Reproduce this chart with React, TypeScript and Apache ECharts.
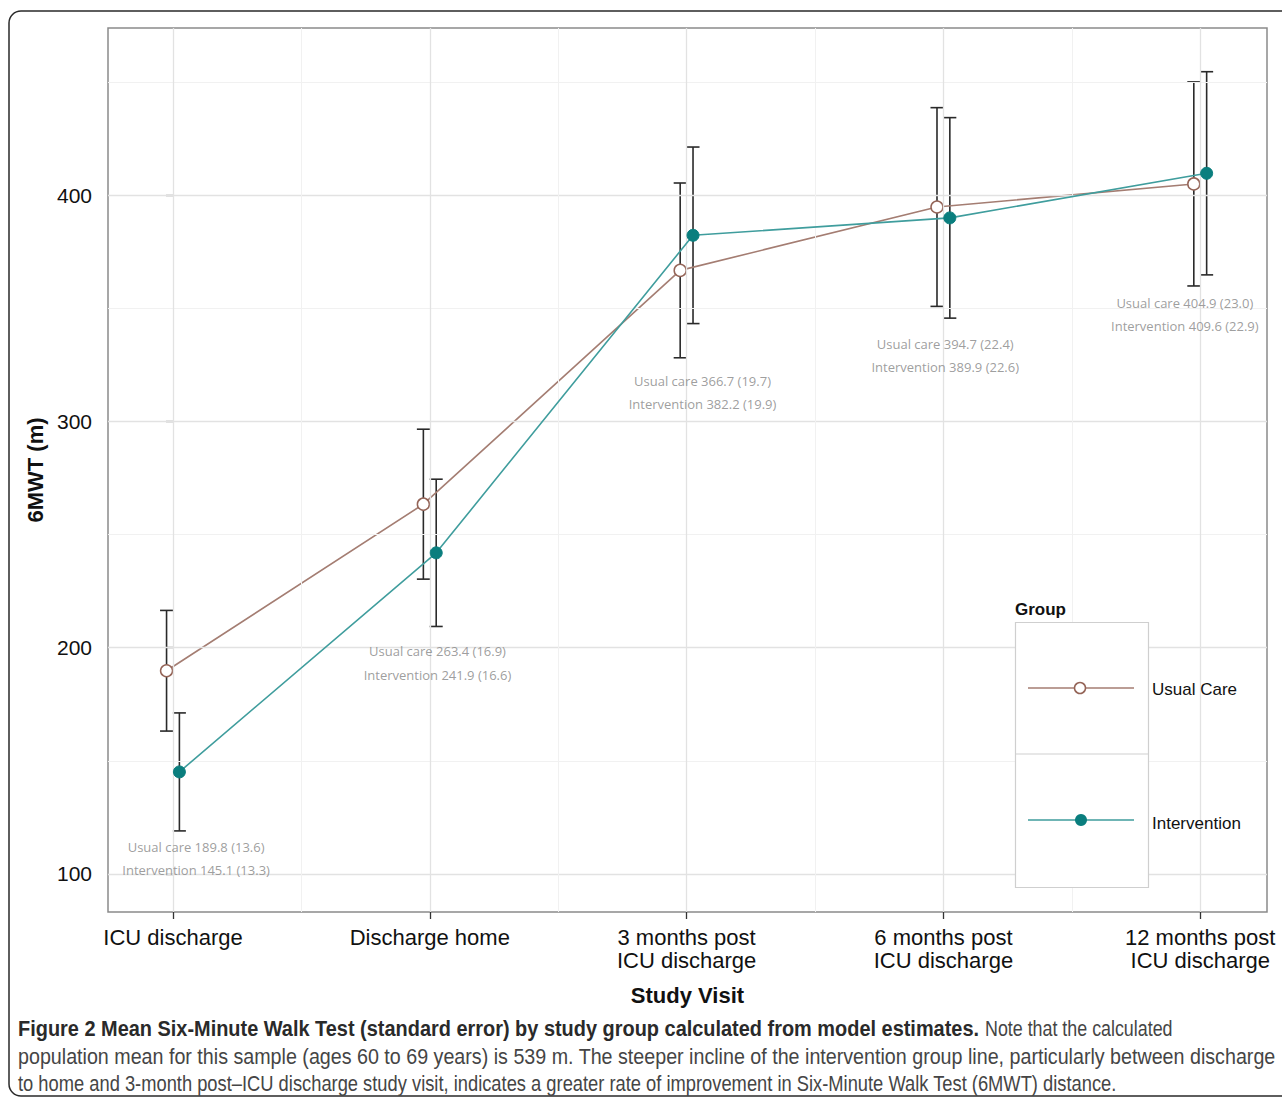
import React, { useEffect, useRef } from "react";
import * as echarts from "echarts";

const categories = [
  "ICU discharge",
  "Discharge home",
  "3 months post\nICU discharge",
  "6 months post\nICU discharge",
  "12 months post\nICU discharge",
];
const usualMean = [189.8, 263.4, 366.7, 394.7, 404.9];
const usualSE = [13.6, 16.9, 19.7, 22.4, 23.0];
const interventionMean = [145.1, 241.9, 382.2, 389.9, 409.6];
const interventionSE = [13.3, 16.6, 19.9, 22.6, 22.9];
const yTicks = [100, 200, 300, 400];
const yMinor = [150, 250, 350, 450];
const xMinor = [0.5, 1.5, 2.5, 3.5];
// annotation anchors (data coordinates)
const annoX = [0.09, 0.03, 0.062, 0.007, -0.06];
const annoYUsual = [112, 198.5, 318, 334.2, 352.3];
const annoYIntervention = [101.8, 188, 307.7, 324, 342.1];

const DODGE = 0.025;
const USUAL_LINE = "#a47d72";
const USUAL_EDGE = "#946457";
const INT_LINE = "#3f9d9d";
const INT_FILL = "#0a7e7e";
const FONT = "'Liberation Sans', Arial, sans-serif";
const CAP_FONT = "'Liberation Sans', Arial, sans-serif";

function errorSeries(name: string, means: number[], ses: number[], off: number) {
  return {
    type: "custom",
    name,
    z: 3,
    silent: true,
    data: means.map((m, i) => [i + off, m - 1.96 * ses[i], m + 1.96 * ses[i]]),
    encode: { x: 0, y: [1, 2] },
    renderItem: (_p: any, api: any) => {
      const x = api.value(0);
      const lo = api.coord([x, api.value(1)]);
      const hi = api.coord([x, api.value(2)]);
      const hw = 6.5;
      const style = { stroke: "#2a2a2a", lineWidth: 1.6 };
      return {
        type: "group",
        children: [
          { type: "line", shape: { x1: lo[0], y1: lo[1], x2: hi[0], y2: hi[1] }, style },
          { type: "line", shape: { x1: lo[0] - hw, y1: lo[1], x2: lo[0] + hw, y2: lo[1] }, style },
          { type: "line", shape: { x1: hi[0] - hw, y1: hi[1], x2: hi[0] + hw, y2: hi[1] }, style },
        ],
      };
    },
  };
}

export default function App() {
  const ref = useRef<HTMLDivElement>(null);
  useEffect(() => {
    const chart = echarts.init(ref.current!, null, { renderer: "svg" });
    const annoData: any[] = [];
    categories.forEach((_c, i) => {
      annoData.push({
        value: [i + annoX[i], annoYUsual[i]],
        name: `Usual care ${usualMean[i].toFixed(1)} (${usualSE[i].toFixed(1)})`,
      });
      annoData.push({
        value: [i + annoX[i], annoYIntervention[i]],
        name: `Intervention ${interventionMean[i].toFixed(1)} (${interventionSE[i].toFixed(1)})`,
      });
    });
    const gridLines: any[] = [
      ...yTicks.map((v) => ({ yAxis: v, lineStyle: { color: "#e2e2e2", width: 1.3, type: "solid" } })),
      ...yMinor.map((v) => ({ yAxis: v, lineStyle: { color: "#f1f1f1", width: 1, type: "solid" } })),
      ...categories.map((_c, i) => ({ xAxis: i, lineStyle: { color: "#e2e2e2", width: 1.3, type: "solid" } })),
      ...xMinor.map((v) => ({ xAxis: v, lineStyle: { color: "#f1f1f1", width: 1, type: "solid" } })),
    ];
    const capRegular = { fill: "#454545", textVerticalAlign: "middle" };
    const option: any = {
      animation: false,
      backgroundColor: "#ffffff",
      grid: {
        left: 108,
        top: 28,
        right: 15,
        bottom: 187,
        show: true,
        backgroundColor: "#ffffff",
        borderColor: "#8a8a8a",
        borderWidth: 1.5,
      },
      xAxis: {
        type: "value",
        min: -0.253,
        max: 4.26,
        name: "Study Visit",
        nameLocation: "middle",
        nameGap: 72,
        nameTextStyle: { fontFamily: FONT, fontWeight: "bold", fontSize: 22, color: "#111" },
        axisLine: { show: false },
        splitLine: { show: false },
        axisTick: {
          show: true,
          customValues: [0, 1, 2, 3, 4],
          length: 7,
          lineStyle: { color: "#333", width: 1.3 },
        },
        axisLabel: {
          customValues: [0, 1, 2, 3, 4],
          formatter: (v: number) => categories[Math.round(v)],
          fontFamily: FONT,
          fontSize: 22,
          color: "#111",
          lineHeight: 23,
          margin: 14,
        },
      },
      yAxis: {
        type: "value",
        min: 83.2,
        max: 473.8,
        name: "6MWT (m)",
        nameLocation: "middle",
        nameGap: 55,
        nameRotate: 90,
        nameTextStyle: { fontFamily: FONT, fontWeight: "bold", fontSize: 22, color: "#111" },
        axisLine: { show: false },
        splitLine: { show: false },
        axisTick: {
          show: true,
          customValues: yTicks,
          length: 7,
          lineStyle: { color: "#333", width: 1.3 },
        },
        axisLabel: {
          customValues: yTicks,
          fontFamily: FONT,
          fontSize: 21,
          color: "#111",
          margin: 16,
        },
      },
      series: [
        {
          type: "line",
          name: "grid",
          z: 1,
          silent: true,
          data: [[0, 100]],
          showSymbol: false,
          lineStyle: { width: 0, opacity: 0 },
          markLine: {
            silent: true,
            symbol: "none",
            label: { show: false },
            emphasis: { disabled: true },
            data: gridLines,
          },
        },
        errorSeries("Usual Care err", usualMean, usualSE, -DODGE),
        errorSeries("Intervention err", interventionMean, interventionSE, DODGE),
        {
          type: "line",
          name: "Usual Care",
          z: 4,
          data: usualMean.map((m, i) => [i - DODGE, m]),
          symbol: "circle",
          symbolSize: 12,
          showAllSymbol: true,
          lineStyle: { color: USUAL_LINE, width: 1.6 },
          itemStyle: { color: "#ffffff", borderColor: USUAL_EDGE, borderWidth: 1.5 },
        },
        {
          type: "line",
          name: "Intervention",
          z: 5,
          data: interventionMean.map((m, i) => [i + DODGE, m]),
          symbol: "circle",
          symbolSize: 12,
          showAllSymbol: true,
          lineStyle: { color: INT_LINE, width: 1.6 },
          itemStyle: { color: INT_FILL, borderColor: INT_FILL, borderWidth: 1 },
        },
        {
          type: "scatter",
          name: "annotations",
          z: 6,
          silent: true,
          symbolSize: 0,
          data: annoData,
          label: {
            show: true,
            position: "inside",
            formatter: "{b}",
            fontFamily: "'Open Sans', 'Noto Sans', sans-serif",
            fontSize: 13,
            color: "#858585",
          },
        },
      ],
      graphic: [
        {
          type: "rect",
          z: 50,
          shape: { x: 9, y: 11, width: 1290, height: 1085, r: 12 },
          style: { fill: "none", stroke: "#2a2a2a", lineWidth: 1.5 },
          silent: true,
        },
        {
          type: "text",
          z: 50,
          x: 1015,
          y: 609,
          style: {
            text: "Group",
            font: `bold 17px ${FONT}`,
            fill: "#111",
            textVerticalAlign: "middle",
          },
        },
        {
          type: "rect",
          z: 50,
          shape: { x: 1015.5, y: 622.5, width: 133, height: 265 },
          style: { fill: "#ffffff", stroke: "#cfcfcf", lineWidth: 1.2 },
        },
        {
          type: "line",
          z: 51,
          shape: { x1: 1015.5, y1: 754, x2: 1148.5, y2: 754 },
          style: { stroke: "#cfcfcf", lineWidth: 1.2 },
        },
        {
          type: "line",
          z: 51,
          shape: { x1: 1028, y1: 688, x2: 1134, y2: 688 },
          style: { stroke: USUAL_LINE, lineWidth: 1.6 },
        },
        {
          type: "circle",
          z: 52,
          shape: { cx: 1080, cy: 688, r: 5.5 },
          style: { fill: "#ffffff", stroke: USUAL_EDGE, lineWidth: 1.5 },
        },
        {
          type: "line",
          z: 51,
          shape: { x1: 1028, y1: 820, x2: 1134, y2: 820 },
          style: { stroke: INT_LINE, lineWidth: 1.6 },
        },
        {
          type: "circle",
          z: 52,
          shape: { cx: 1081, cy: 820, r: 6 },
          style: { fill: INT_FILL },
        },
        {
          type: "text",
          z: 52,
          x: 1152,
          y: 689,
          style: { text: "Usual Care", font: `17px ${FONT}`, fill: "#111", textVerticalAlign: "middle" },
        },
        {
          type: "text",
          z: 52,
          x: 1152,
          y: 823,
          style: { text: "Intervention", font: `17px ${FONT}`, fill: "#111", textVerticalAlign: "middle" },
        },
        {
          type: "text",
          z: 52,
          x: 18,
          y: 1028,
          scaleX: 0.906,
          style: {
            text: "Figure 2 Mean Six-Minute Walk Test (standard error) by study group calculated from model estimates.",
            font: `bold 22px ${CAP_FONT}`,
            fill: "#2a2a2a",
            textVerticalAlign: "middle",
          },
        },
        {
          type: "text",
          z: 52,
          x: 985,
          y: 1028,
          scaleX: 0.812,
          style: { text: "Note that the calculated", font: `22px ${CAP_FONT}`, ...capRegular },
        },
        {
          type: "text",
          z: 52,
          x: 18,
          y: 1056,
          scaleX: 0.895,
          style: {
            text:
              "population mean for this sample (ages 60 to 69 years) is 539 m. The steeper incline of the intervention group line, particularly between discharge",
            font: `22px ${CAP_FONT}`,
            ...capRegular,
          },
        },
        {
          type: "text",
          z: 52,
          x: 18,
          y: 1083,
          scaleX: 0.833,
          style: {
            text:
              "to home and 3-month post\u2013ICU discharge study visit, indicates a greater rate of improvement in Six-Minute Walk Test (6MWT) distance.",
            font: `22px ${CAP_FONT}`,
            ...capRegular,
          },
        },
      ],
    };
    chart.setOption(option);
    return () => chart.dispose();
  }, []);
  return (
    <div
      ref={ref}
      style={{ position: "absolute", left: 0, top: 0, width: 1282, height: 1099, background: "#fff" }}
    />
  );
}
